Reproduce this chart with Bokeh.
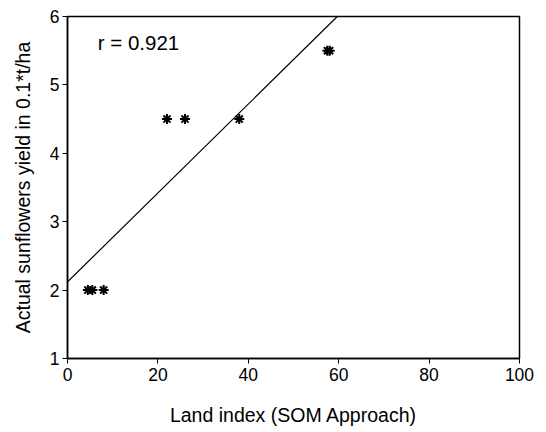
from bokeh.plotting import figure
from bokeh.models import Slope, Label, Range1d, FixedTicker
from bokeh.embed import file_html
from bokeh.resources import INLINE

# Data
land_index = [4.5, 5.5, 8.0, 22.0, 26.0, 38.0, 57.5, 58.0]
yield_obs = [2.0, 2.0, 2.0, 4.5, 4.5, 4.5, 5.5, 5.5]
fit_slope = 0.065
fit_intercept = 2.12
r_text = "r = 0.921"
x_ticks = [0, 20, 40, 60, 80, 100]
y_ticks = [1, 2, 3, 4, 5, 6]
x_title = "Land index (SOM Approach)"
y_title = "Actual sunflowers yield in 0.1*t/ha"

FONT = "Liberation Sans"

p = figure(width=546, height=432, output_backend="svg", toolbar_location=None,
           x_range=Range1d(0, 100), y_range=Range1d(1, 6),
           min_border_left=67, min_border_right=27, min_border_top=16, min_border_bottom=74)

p.grid.visible = False
p.outline_line_color = "black"
p.outline_line_width = 1.5
p.background_fill_color = "white"
p.border_fill_color = "white"

for ax in (p.xaxis[0], p.yaxis[0]):
    ax.axis_line_color = "black"
    ax.axis_line_width = 1.5
    ax.major_tick_line_color = "black"
    ax.major_tick_line_width = 1
    ax.major_tick_out = 5
    ax.major_tick_in = 0
    ax.minor_tick_line_color = None
    ax.major_label_text_font = FONT
    ax.major_label_text_font_size = "17.5px"
    ax.major_label_text_color = "black"
    ax.axis_label_text_font = FONT
    ax.axis_label_text_font_size = "19.5px"
    ax.axis_label_text_font_style = "normal"
    ax.axis_label_text_color = "black"

p.xaxis.ticker = FixedTicker(ticks=x_ticks)
p.yaxis.ticker = FixedTicker(ticks=y_ticks)
p.xaxis.axis_label = x_title
p.yaxis.axis_label = y_title
p.xaxis.major_label_standoff = 4
p.yaxis.major_label_standoff = 3
p.xaxis.axis_label_standoff = 20
p.yaxis.axis_label_standoff = 13

p.add_layout(Slope(gradient=fit_slope, y_intercept=fit_intercept,
                   line_color="black", line_width=1.2))

p.scatter(land_index, yield_obs, marker="asterisk", size=10,
          line_color="black", line_width=2)

p.add_layout(Label(x=6.7, y=5.62, text=r_text, text_font=FONT,
                   text_font_size="20.5px", text_color="black",
                   text_baseline="middle", text_align="left"))

open("out.html", "w").write(file_html(p, INLINE))
